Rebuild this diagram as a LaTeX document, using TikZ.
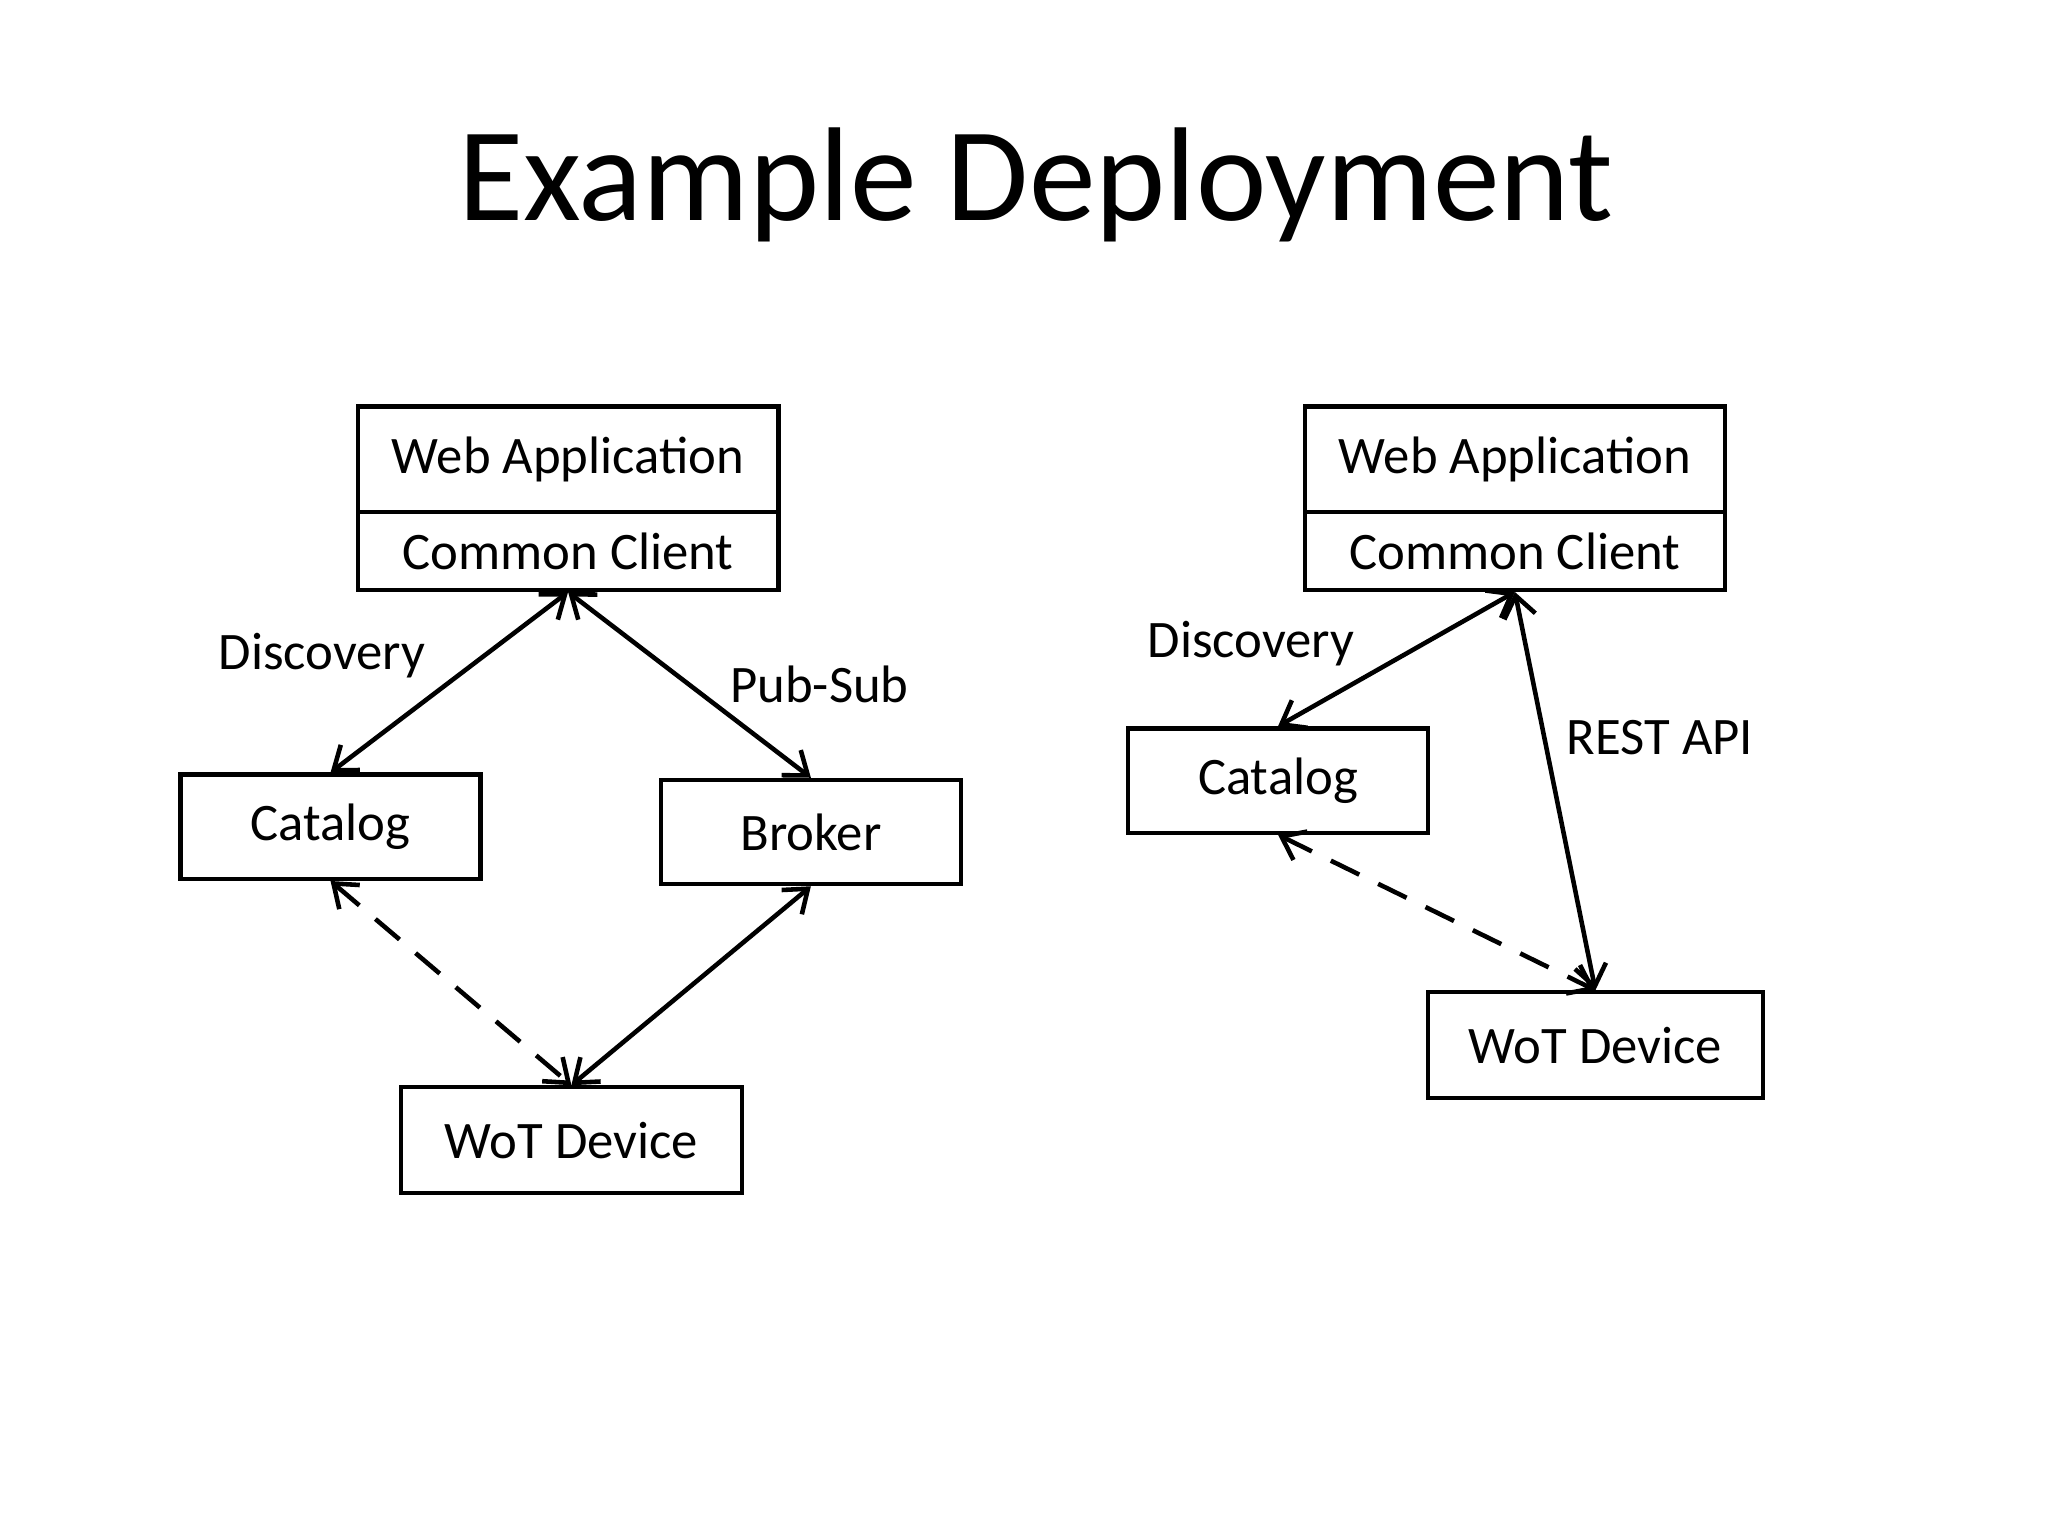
\documentclass[tikz,border=0pt]{standalone}
\usepackage{fontspec}
\setmainfont{Carlito}
\usetikzlibrary{arrows.meta}
\begin{document}
\begin{tikzpicture}[x=0.0132cm,y=-0.0132cm,
  box/.style={draw, line width=1.2pt, inner sep=0pt, font=\fontsize{15}{18}\selectfont},
  lbl/.style={font=\fontsize{15}{18}\selectfont},
  link/.style={line width=1.3pt, {Straight Barb[length=6pt,width=9pt]}-{Straight Barb[length=6pt,width=9pt]}},
  disc/.style={link, dash pattern=on 9pt off 6pt}
  ]
  \useasboundingbox (0,0) rectangle (1552,1164);
  \node (title) at (785,140) {\fontsize{38}{44}\selectfont Example Deployment};

  % left deployment
  \node[box, minimum width=319\pgflinewidth, anchor=center, minimum width=4.21cm, minimum height=1.056cm] (web1) at (430.5,348) {Web Application};
  \node[box, minimum width=4.21cm, minimum height=0.779cm] (cc1) at (430.5,417.5) {Common Client};
  \node[box, minimum width=3.0cm, minimum height=1.043cm] (cat1) at (250.5,626.5) {Catalog};
  \node[box, minimum width=3.0cm, minimum height=1.043cm] (brk) at (614.5,630.5) {Broker};
  \node[box, minimum width=3.406cm, minimum height=1.056cm] (wot1) at (433,864) {WoT Device};
  \draw[link] (cc1.south) -- (cat1.north);
  \draw[link] (cc1.south) -- (brk.north);
  \draw[disc] (cat1.south) -- (wot1.north);
  \draw[link] (brk.south) -- (wot1.north);
  \node[lbl] (l1) at (244,497) {Discovery};
  \node[lbl] (l2) at (621,519) {Pub-Sub};

  % right deployment
  \node[box, minimum width=4.198cm, minimum height=1.056cm] (web2) at (1148,348) {Web Application};
  \node[box, minimum width=4.198cm, minimum height=0.779cm] (cc2) at (1148,417.5) {Common Client};
  \node[box, minimum width=3.0cm, minimum height=1.043cm] (cat2) at (968.5,591.5) {Catalog};
  \node[box, minimum width=3.353cm, minimum height=1.056cm] (wot2) at (1209,792) {WoT Device};
  \draw[link] (cc2.south) -- (cat2.north);
  \draw[link] (cc2.south) -- (wot2.north);
  \draw[disc] (cat2.south) -- (wot2.north);
  \node[lbl] (l3) at (948,488) {Discovery};
  \node[lbl] (l4) at (1258,559) {REST API};
\end{tikzpicture}
\end{document}
